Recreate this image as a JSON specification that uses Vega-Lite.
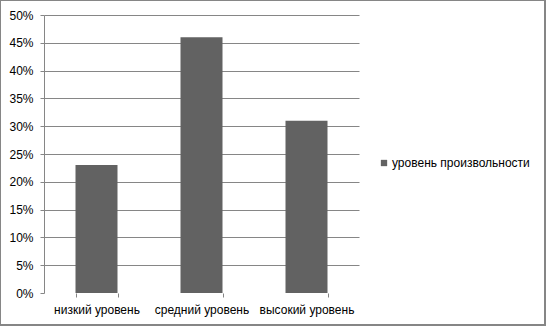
{
  "$schema": "https://vega.github.io/schema/vega-lite/v6.json",
  "width": 545,
  "height": 325,
  "autosize": "none",
  "padding": {"left": 0, "top": 0, "right": 2, "bottom": 3},
  "background": "white",
  "config": {
    "view": {"stroke": "#868686", "strokeWidth": 2},
    "font": "Liberation Sans"
  },
  "data": {
    "values": [
      {"level": "низкий уровень", "series": "уровень произвольности", "value": 0.23},
      {"level": "средний уровень", "series": "уровень произвольности", "value": 0.46},
      {"level": "высокий уровень", "series": "уровень произвольности", "value": 0.31}
    ]
  },
  "mark": {"type": "bar", "color": "#626262"},
  "encoding": {
    "x": {
      "field": "level",
      "type": "nominal",
      "sort": null,
      "scale": {"paddingInner": 0.6, "paddingOuter": 0.3, "range": [44, 359]},
      "axis": {
        "title": null,
        "offset": -32,
        "labelAngle": 0,
        "labelFontSize": 12,
        "labelColor": "#000000",
        "labelPadding": 7,
        "tickBand": "extent",
        "tickColor": "#868686",
        "tickSize": 4,
        "domain": false,
        "grid": false
      }
    },
    "y": {
      "field": "value",
      "type": "quantitative",
      "scale": {"domain": [0, 0.5], "nice": false, "range": [293, 15]},
      "axis": {
        "title": null,
        "offset": -44,
        "format": ".0%",
        "values": [0, 0.05, 0.1, 0.15, 0.2, 0.25, 0.3, 0.35, 0.4, 0.45, 0.5],
        "labelFontSize": 12,
        "labelColor": "#000000",
        "labelPadding": 7,
        "tickColor": "#868686",
        "tickSize": 4,
        "domainColor": "#868686",
        "grid": true,
        "gridColor": {"condition": {"test": "datum.value === 0", "value": "white"}, "value": "#868686"},
        "gridOpacity": 1
      }
    },
    "fill": {
      "field": "series",
      "type": "nominal",
      "scale": {"range": ["#626262"]},
      "legend": {
        "title": null,
        "orient": "none",
        "legendX": 378,
        "legendY": 157,
        "symbolType": "square",
        "symbolSize": 40,
        "symbolStrokeWidth": 0,
        "labelFontSize": 12,
        "labelColor": "#000000",
        "labelOffset": 2
      }
    }
  }
}
